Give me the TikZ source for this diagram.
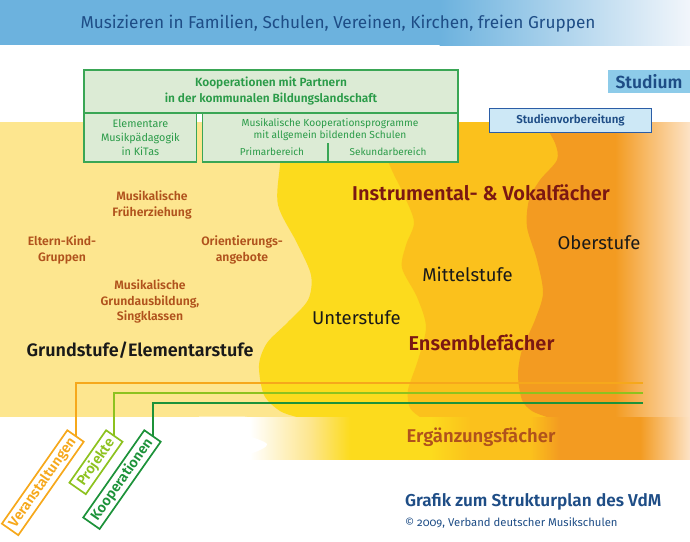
\documentclass[tikz,border=0pt]{standalone}
\usepackage{fontspec}
\setmainfont{Fira Sans}[BoldFont={Fira Sans SemiBold}]
\usetikzlibrary{positioning}
\definecolor{bannerblue}{HTML}{6CB2DE}
\definecolor{bannerwhite}{HTML}{F2F6FB}
\definecolor{darkblue}{HTML}{1E4D86}
\definecolor{paleyellow}{HTML}{FDE68F}
\definecolor{brightyellow}{HTML}{FCDB1D}
\definecolor{deepyellow}{HTML}{FBC11C}
\definecolor{orangebg}{HTML}{F39B21}
\definecolor{palepeach}{HTML}{FDE3C6}
\definecolor{brownorange}{HTML}{B0521C}
\definecolor{darkred}{HTML}{7B1812}
\definecolor{greenfill}{HTML}{DCEBD5}
\definecolor{greenline}{HTML}{3AA655}
\definecolor{greentext}{HTML}{2A9B48}
\definecolor{studiumfill}{HTML}{8DCBE9}
\definecolor{svfill}{HTML}{CDE8F6}
\definecolor{svborder}{HTML}{2B5DA6}
\definecolor{veraorange}{HTML}{F6A81B}
\definecolor{projgreen}{HTML}{8DC21F}
\definecolor{koopgreen}{HTML}{1C9239}
\pgfdeclarehorizontalshading{bandshade}{100bp}{color(0bp)=(white); color(30.1bp)=(white); color(36.2bp)=(paleyellow); color(40.3bp)=(brightyellow); color(48.5bp)=(brightyellow); color(52.6bp)=(deepyellow); color(58.7bp)=(deepyellow); color(61.7bp)=(orangebg); color(69.9bp)=(orangebg); color(75bp)=(palepeach); color(100bp)=(palepeach)}
\tikzset{
  greenbox/.style={draw=greenline,fill=greenfill,line width=1.2pt,text=greentext,align=center},
  angebottxt/.style={text=brownorange,font=\bfseries\fontsize{12.2}{15.5}\selectfont,align=center},
  stufetxt/.style={text=black!90,font=\fontsize{18.5}{20}\selectfont},
  fachtxt/.style={text=darkred,font=\bfseries\fontsize{20}{22}\selectfont},
  tagbox/.style={draw,line width=1.7pt,rotate=55,minimum height=20pt,font=\bfseries\fontsize{14.2}{16}\selectfont}
}
\begin{document}
\begin{tikzpicture}[x=1pt,y=-1pt,every node/.style={inner sep=0pt,outer sep=0pt}]
\useasboundingbox (0,0) rectangle (690,541);
% Kopfband
\fill[bannerblue] (0,0) rectangle (440,45);
\shade[left color=bannerblue,right color=bannerwhite] (439.5,0) rectangle (690,45);
\node[text=darkblue,font=\fontsize{17.2}{20}\selectfont] (motto) at (338,24) {Musizieren in Familien, Schulen, Vereinen, Kirchen, freien Gruppen};
% Stufen
\fill[paleyellow] (0,122) rectangle (690,417);
\fill[brightyellow] plot[smooth] coordinates {(285,122) (280,165) (278,205) (297,243) (311,275) (308,300) (287,323) (267,343) (259,365) (264,395) (280,411) (297,417)} -- (690,417) -- (690,122) -- cycle;
\fill[deepyellow] plot[smooth] coordinates {(385,122) (388,160) (403,193) (414,222) (406,245) (402,268) (417,297) (426,327) (418,360) (408,390) (410,408) (420,417)} -- (690,417) -- (690,122) -- cycle;
\fill[orangebg] plot[smooth] coordinates {(543,122) (555,143) (557,160) (540,180) (529,200) (527,227) (537,260) (543,293) (535,320) (522,350) (518,375) (522,400) (532,411) (547,417)} -- (690,417) -- (690,122) -- cycle;
\shade[left color=orangebg,right color=palepeach] (615,122) rectangle (690,417);
% Ergaenzungsband
\shade[shading=bandshade] (200,417) rectangle (690,459);
\fill[white] (199,416.5) -- plot[smooth] coordinates {(247,416.5) (215,424) (267,444) (234,459.5)} -- (199,459.5) -- cycle;
% Angebote mit Linien
\foreach \kname/\kcol/\kx/\ky/\kw/\klb in {vera/veraorange/75.5/383/114/Veranstaltungen,proj/projgreen/114.3/393/64/Projekte,koop/koopgreen/152.5/403/106.5/Kooperationen}{
  \node[tagbox,draw=\kcol,text=\kcol,minimum width=\kw,anchor=east] (\kname) at (\kx,436) {\klb};
  \coordinate (\kname end) at (643,\ky);
  \draw[\kcol,line width=2pt] (\kname.east) |- (\kname end);
}
% Kooperationen oben
\node[greenbox,minimum width=374,minimum height=43,anchor=north west,font=\bfseries\fontsize{11.9}{16}\selectfont] (partner) at (84,70) {Kooperationen mit Partnern\\in der kommunalen Bildungslandschaft};
\node[greenbox,minimum width=112.7,minimum height=49,anchor=north west,font=\fontsize{10.8}{14}\selectfont] (kitas) at (84,113) {Elementare\\Musikpädagogik\\in KiTas};
\node[greenbox,minimum width=255.3,minimum height=49,anchor=north west] (schulen) at (202.7,113) {};
\node[text=greentext,align=center,font=\fontsize{10.2}{12.5}\selectfont] (schultxt) at (330,129.5) {Musikalische Kooperationsprogramme\\mit allgemein bildenden Schulen};
\node[text=greentext,font=\fontsize{10}{12}\selectfont] (prim) at (272,152) {Primarbereich};
\node[text=greentext,font=\fontsize{10}{12}\selectfont] (sek) at (388,152) {Sekundarbereich};
\draw[greenline,line width=1.2pt] (schulen.south) ++(-2.4,0) -- ++(0,-19);
% Studium
\node[fill=studiumfill,minimum width=83,minimum height=23,anchor=north west,text=darkblue,font=\bfseries\fontsize{17.5}{19}\selectfont] (studium) at (607.5,70) {Studium};
\node[fill=svfill,draw=svborder,line width=1.2pt,minimum width=162.4,minimum height=24,anchor=north west,text=darkblue,font=\bfseries\fontsize{11.5}{13}\selectfont] (vorber) at (489.3,108.3) {Studienvorbereitung};
% Texte
\node[angebottxt] (frueh) at (152,205) {Musikalische\\Früherziehung};
\node[angebottxt] (eltern) at (62,250) {Eltern-Kind-\\Gruppen};
\node[angebottxt] (orient) at (242,250) {Orientierungs-\\angebote};
\node[angebottxt] (grund) at (150,301.5) {Musikalische\\Grundausbildung,\\Singklassen};
\node[text=black!90,font=\bfseries\fontsize{18}{20}\selectfont] (elementar) at (140,350) {Grundstufe/Elementarstufe};
\node[fachtxt] (instr) at (481,193) {Instrumental- \& Vokalfächer};
\node[stufetxt] (ober) at (599,243) {Oberstufe};
\node[stufetxt] (mittel) at (467.5,274) {Mittelstufe};
\node[stufetxt] (unter) at (356.5,318) {Unterstufe};
\node[fachtxt] (ensemble) at (481.5,342.7) {Ensemblefächer};
\node[text=brownorange,font=\bfseries\fontsize{18.5}{20}\selectfont] (ergaenz) at (481,437.3) {Ergänzungsfächer};
\node[text=darkblue,font=\bfseries\fontsize{17.2}{19}\selectfont,anchor=west] (grafik) at (405,501.7) {Grafik zum Strukturplan des VdM};
\node[text=darkblue,font=\fontsize{11.3}{13}\selectfont,anchor=west] (copy) at (405,522.7) {© {\addfontfeatures{Numbers=OldStyle}2009}, Verband deutscher Musikschulen};
\end{tikzpicture}
\end{document}
